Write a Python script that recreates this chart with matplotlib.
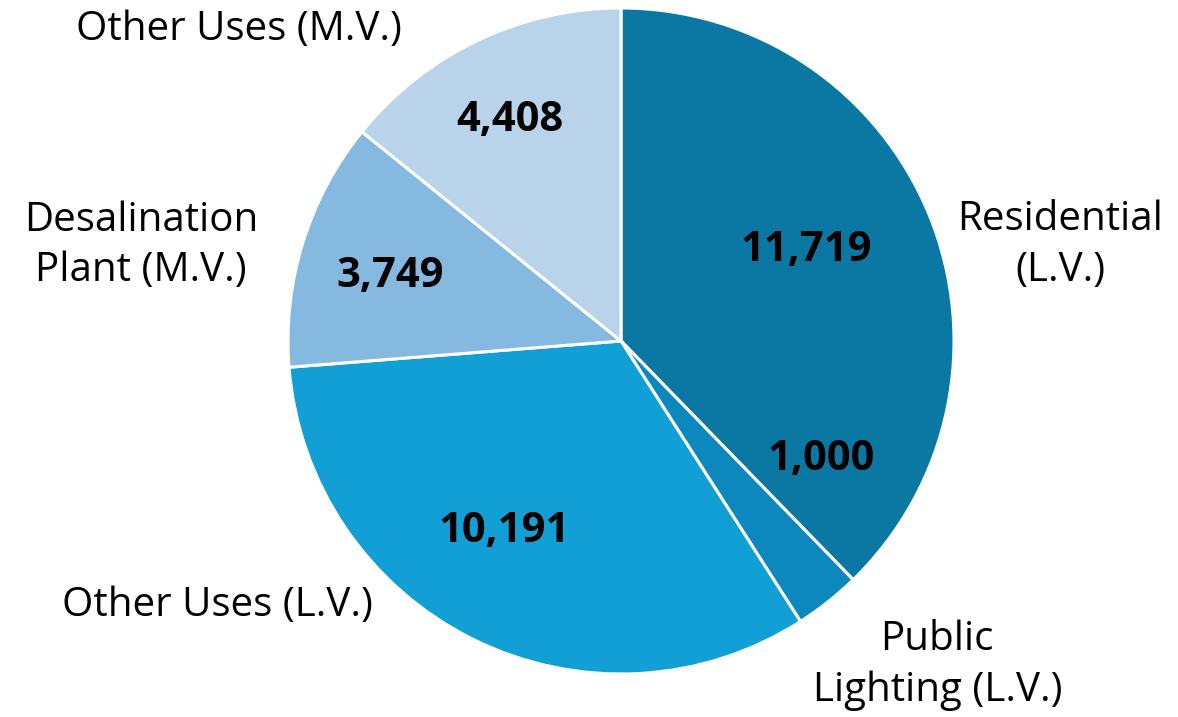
import matplotlib
matplotlib.use("Agg")
import matplotlib.pyplot as plt
import numpy as np

categories = ["Residential\n(L.V.)", "Public\nLighting (L.V.)", "Other Uses (L.V.)",
              "Desalination\nPlant (M.V.)", "Other Uses (M.V.)"]
values = [11719, 1000, 10191, 3749, 4408]
value_labels = ["11,719", "1,000", "10,191", "3,749", "4,408"]
colors = ["#0b77a3", "#0c88bf", "#119fd6", "#85b9e0", "#b8d3ea"]

# label placement (angle in degrees, radius in pie radii)
val_pos = [(25.9, 0.62), (-30.6, 0.70), (-121.5, 0.67), (164.3, 0.72), (116.7, 0.74)]
cat_pos = [(12.3, 1.35), (-45.7, 1.36), (-146.8, 1.45), (168.8, 1.47), (140.8, 1.48)]

plt.rcParams['font.family'] = ['Open Sans', 'DejaVu Sans']

fig = plt.figure(figsize=(11.78, 7.17), dpi=100)
ax = fig.add_axes([288/1178, 43/717, 666/1178, 666/717])
ax.pie(values, colors=colors, startangle=90, counterclock=False, radius=1,
       wedgeprops=dict(edgecolor="white", linewidth=2.2))
ax.set_xlim(-1, 1)
ax.set_ylim(-1, 1)
ax.set_aspect("equal")
ax.axis("off")

for lab, (a, r) in zip(value_labels, val_pos):
    t = np.deg2rad(a)
    ax.text(r*np.cos(t), r*np.sin(t), lab, ha="center", va="center",
            fontsize=30, fontweight="bold", color="black", clip_on=False)
for lab, (a, r) in zip(categories, cat_pos):
    t = np.deg2rad(a)
    ax.text(r*np.cos(t), r*np.sin(t), lab, ha="center", va="center",
            fontsize=29, color="black", clip_on=False, linespacing=1.32)

fig.savefig("out.png", dpi=100)
